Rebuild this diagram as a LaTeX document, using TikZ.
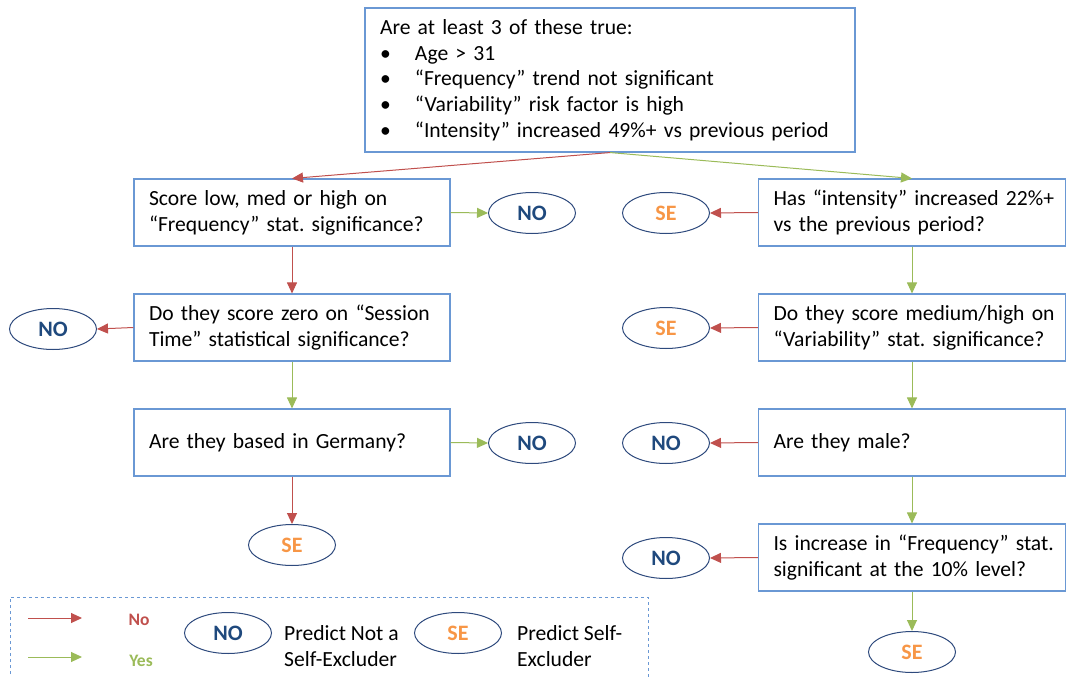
\documentclass[tikz,border=0pt]{standalone}
\usepackage{fontspec}
\setmainfont{Carlito}
\usetikzlibrary{shapes.geometric,arrows.meta}
\definecolor{boxblue}{HTML}{6A98D4}
\definecolor{ellblue}{HTML}{2E4A7D}
\definecolor{notxt}{HTML}{1F497D}
\definecolor{setxt}{HTML}{F79646}
\definecolor{noarr}{HTML}{C0504D}
\definecolor{yesarr}{HTML}{9BBB59}
\frenchspacing
\hbadness=10000 \hfuzz=50pt
\begin{document}
\begin{tikzpicture}[x=1pt,y=-1pt,
  qbox/.style={draw=boxblue,line width=1.1pt,minimum width=316pt,minimum height=67pt,text width=286pt,align=left,inner xsep=15pt,inner ysep=0pt,font=\fontsize{21.6}{26}\selectfont},
  rbox/.style={qbox,minimum width=307pt,text width=277pt},
  endnode/.style={ellipse,draw=ellblue,line width=1pt,minimum width=87pt,minimum height=41pt,inner sep=0pt,font=\fontsize{22}{24}\selectfont\bfseries},
  nonode/.style={endnode,text=notxt},
  senode/.style={endnode,text=setxt},
  noline/.style={draw=noarr,line width=1pt,-{Triangle[length=11pt,width=10pt]}},
  yesline/.style={draw=yesarr,line width=1pt,-{Triangle[length=11pt,width=10pt]}},
  legtxt/.style={align=left,anchor=west,inner sep=0pt,font=\fontsize{21.6}{26}\selectfont},
  legkey/.style={inner sep=0pt,font=\fontsize{17.5}{19}\selectfont\bfseries}
]
\path[use as bounding box] (0,0) rectangle (1066,677);

% top question
\node[draw=boxblue,line width=1.1pt,minimum width=490pt,minimum height=144pt,text width=460pt,align=left,inner xsep=15pt,inner ysep=0pt,font=\fontsize{21.6}{25.7}\selectfont] (top) at (610,80)
{Are at least 3 of these true:\\
\makebox[35pt][l]{•}Age > 31\\
\makebox[35pt][l]{•}“Frequency” trend not significant\\
\makebox[35pt][l]{•}“Variability” risk factor is high\\
\makebox[35pt][l]{•}\mbox{“Intensity” increased 49\%+ vs previous period}};

% left column
\node[qbox] (l1) at (292,212.5) {\mbox{Score low, med or high on}\\\mbox{“Frequency” stat. significance?}};
\node[qbox] (l2) at (292,327.5) {\mbox{Do they score zero on “Session}\\\mbox{Time” statistical significance?}};
\node[qbox] (l3) at (292,442.5) {\mbox{Are they based in Germany?}};
\node[nonode] (l1n) at (532,213) {NO};
\node[nonode] (l2n) at (53,329) {NO};
\node[nonode] (l3n) at (532,443) {NO};
\node[senode] (l4s) at (292,545) {SE};

% right column
\node[rbox] (r1) at (912,212.5) {\mbox{Has “intensity” increased 22\%+}\\\mbox{vs the previous period?}};
\node[rbox] (r2) at (912,327.5) {\mbox{Do they score medium/high on}\\\mbox{“Variability” stat. significance?}};
\node[rbox] (r3) at (912,442.5) {\mbox{Are they male?}};
\node[rbox] (r4) at (912,557.5) {\mbox{Is increase in “Frequency” stat.}\\\mbox{significant at the 10\% level?}};
\node[senode] (r1s) at (666,213) {SE};
\node[senode] (r2s) at (666,328) {SE};
\node[nonode] (r3n) at (666,443) {NO};
\node[nonode] (r4n) at (666,558) {NO};
\node[senode] (r5s) at (912,652) {SE};

% connectors
\draw[noline] (top.south) -- (l1.north);
\draw[yesline] (top.south) -- (r1.north);
\draw[yesline] (l1.east) -- (l1n.west);
\draw[noline] (l1.south) -- (l2.north);
\draw[noline] (l2.west) -- (l2n.east);
\draw[yesline] (l2.south) -- (l3.north);
\draw[yesline] (l3.east) -- (l3n.west);
\draw[noline] (l3.south) -- (l4s.north);
\draw[noline] (r1.west) -- (r1s.east);
\draw[yesline] (r1.south) -- (r2.north);
\draw[noline] (r2.west) -- (r2s.east);
\draw[yesline] (r2.south) -- (r3.north);
\draw[noline] (r3.west) -- (r3n.east);
\draw[yesline] (r3.south) -- (r4.north);
\draw[noline] (r4.west) -- (r4n.east);
\draw[yesline] (r4.south) -- (r5s.north);

% legend
\draw[boxblue,line width=1pt,dashed] (10,680) -- (10,597) -- (648,597) -- (648,680);
\coordinate (nA) at (28,618);
\coordinate (nB) at (82,618);
\coordinate (yA) at (28,657);
\coordinate (yB) at (82,657);
\draw[noline] (nA) -- (nB);
\draw[yesline] (yA) -- (yB);
\node[legkey,text=noarr] (lno) at (139,620) {No};
\node[legkey,text=yesarr] (lyes) at (141,661) {Yes};
\node[nonode] (legn) at (228,633) {NO};
\node[legtxt] (legnt) at (284,646) {Predict Not a\\Self-Excluder};
\node[senode] (legs) at (458,633) {SE};
\node[legtxt] (legst) at (517,646) {Predict Self-\\Excluder};
\end{tikzpicture}
\end{document}
